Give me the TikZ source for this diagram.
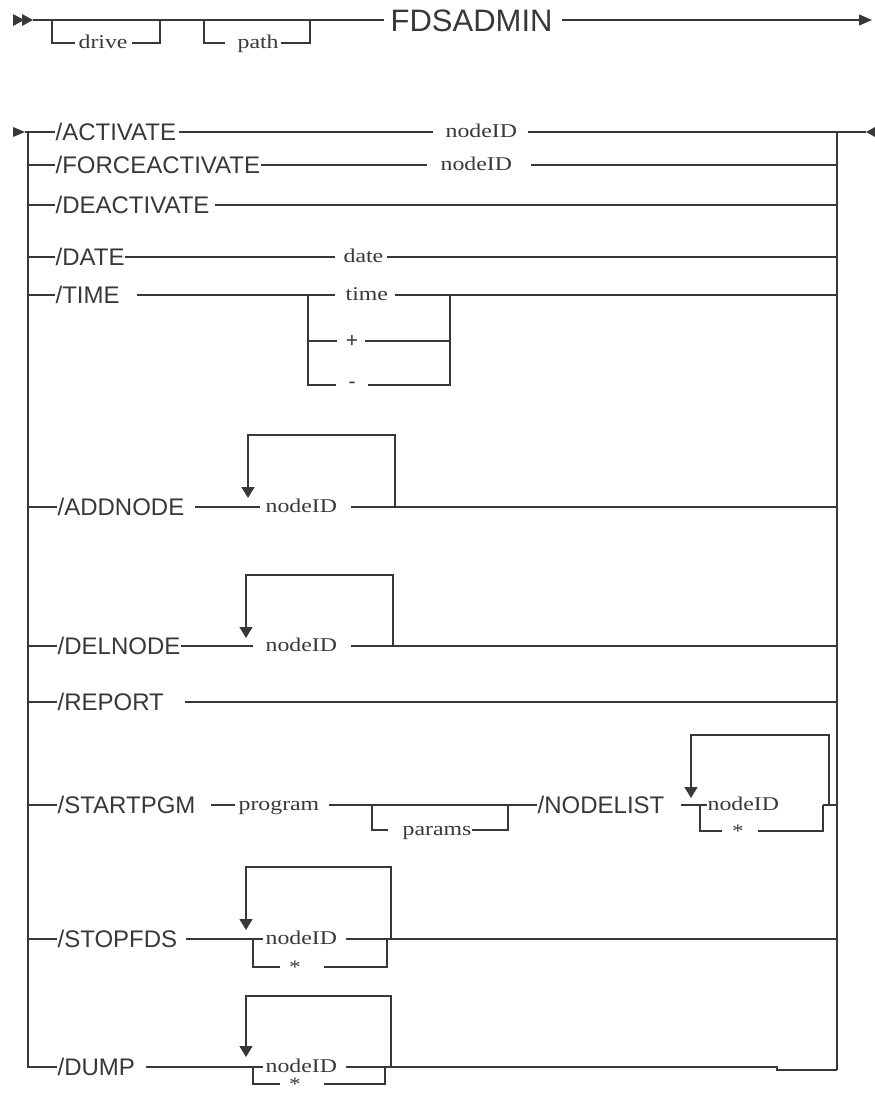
\documentclass[tikz,border=0pt]{standalone}
\usepackage{fontspec}
\newfontfamily\sns{Liberation Sans}
\newfontfamily\ser{Liberation Serif}[FakeStretch=1.22]
\usetikzlibrary{arrows.meta}
\definecolor{ink}{HTML}{383838}
\begin{document}
\begin{tikzpicture}[x=1pt,y=-1pt,line width=1.3pt,color=ink,
  lab/.style={font=\sns\fontsize{24}{24}\selectfont,anchor=west,inner sep=0pt,text height=17pt,text depth=0pt},
  arg/.style={font=\ser\fontsize{19.5}{19.5}\selectfont,anchor=west,inner sep=0pt,text height=11pt,text depth=0pt},
  sym/.style={font=\sns\fontsize{21}{21}\selectfont,inner sep=0pt},
  star/.style={font=\ser\fontsize{19}{19}\selectfont,inner sep=0pt},
  lp/.style={-{Triangle[width=13pt,length=11pt]}}]
\useasboundingbox (0,0) rectangle (875,1095);
% ---------------- top line
\fill (13,14) -- (24,20) -- (13,26) -- cycle;
\fill (22,14) -- (33,20) -- (22,26) -- cycle;
\coordinate (s0) at (33,20);
\coordinate (d1) at (52,20);
\coordinate (d2) at (160,20);
\coordinate (p1) at (204,20);
\coordinate (p2) at (310,20);
\coordinate (e0) at (872,20);
\node[arg] (drv) at (78,43) {drive};
\node[arg] (pth) at (237,43) {path};
\node[lab,font=\sns\fontsize{31}{31}\selectfont,text height=22pt] (fds) at (390,20) {FDSADMIN};
\draw (s0) -- ([xshift=-6pt]fds.west);
\draw (d1) -- (d1 |- drv) -- ([xshift=-3pt]drv.west);
\draw ([xshift=4pt]drv.east) -- (d2 |- drv) -- (d2);
\draw (p1) -- (p1 |- pth) -- ([xshift=-12pt]pth.west);
\draw ([xshift=2pt]pth.east) -- (p2 |- pth) -- (p2);
\draw[-{Triangle[width=11pt,length=13pt]}] ([xshift=9pt]fds.east) -- (e0);
% ---------------- main diagram
\fill (13,127) -- (25,132) -- (13,137) -- cycle;
\coordinate (in) at (25,132);
\coordinate (L) at (28,132);
\coordinate (R) at (837,132);
\coordinate (Rb) at (837,1070);
\coordinate (eR) at (866,132);
\node[lab] (act) at (55,132) {/ACTIVATE};
\node[arg] (actn) at (445,132) {nodeID};
\node[lab] (fact) at (55,165) {/FORCEACTIVATE};
\node[arg] (factn) at (440,165) {nodeID};
\node[lab] (deact) at (55,205) {/DEACTIVATE};
\node[lab] (date) at (55,257) {/DATE};
\node[arg] (daten) at (343,257) {date};
\node[lab] (time) at (55,295) {/TIME};
\node[arg] (timen) at (345,295) {time};
\node[sym] (plus) at (352,341) {+};
\node[sym] (minus) at (352,385) {-};
\node[lab] (addn) at (57,507) {/ADDNODE};
\node[arg] (addid) at (265,507) {nodeID};
\node[lab] (deln) at (57,646) {/DELNODE};
\node[arg] (delid) at (265,646) {nodeID};
\node[lab] (rep) at (57,702) {/REPORT};
\node[lab] (stp) at (57,805) {/STARTPGM};
\node[arg] (prog) at (238,805) {program};
\node[arg] (parm) at (402,830) {params};
\node[lab] (nl) at (537,805) {/NODELIST};
\node[arg] (nlid) at (707,805) {nodeID};
\node[star] (nlst) at (738,831) {*};
\node[lab] (stop) at (57,939) {/STOPFDS};
\node[arg] (stopid) at (265,939) {nodeID};
\node[star] (stopst) at (295,967) {*};
\node[lab] (dump) at (57,1067) {/DUMP};
\node[arg] (dumpid) at (265,1067) {nodeID};
\node[star] (dumpst) at (295,1084) {*};
% verticals
\draw (in) -- (act.west);
\draw (L) -- (L |- dump) -- (dump.west);
\draw (R) -- (Rb);
% row 1
\draw ([xshift=2pt]act.east) -- ([xshift=-12pt]actn.west);
\draw ([xshift=10pt]actn.east) -- (R) -- (eR);
\fill (eR) -- (875,127) -- (875,137) -- cycle;
% row 2
\draw (L |- fact) -- (fact.west);
\draw (fact.east) -- ([xshift=-13pt]factn.west);
\draw ([xshift=18pt]factn.east) -- (R |- fact);
% row 3
\draw (L |- deact) -- (deact.west);
\draw ([xshift=5pt]deact.east) -- (R |- deact);
% row 4
\draw (L |- date) -- (date.west);
\draw (date.east) -- ([xshift=-8pt]daten.west);
\draw ([xshift=3pt]daten.east) -- (R |- date);
% row 5
\coordinate (t1) at (308,295);
\coordinate (t2) at (450,295);
\draw (L |- time) -- (time.west);
\draw ([xshift=17pt]time.east) -- ([xshift=-10pt]timen.west);
\draw ([xshift=6pt]timen.east) -- (R |- time);
\draw (t1 |- plus) -- ([xshift=-8pt]plus.west);
\draw ([xshift=6pt]plus.east) -- (t2 |- plus);
\draw (t1) -- (t1 |- minus) -- ([xshift=-12pt]minus.west);
\draw ([xshift=12pt]minus.east) -- (t2 |- minus) -- (t2);
% row 6
\coordinate (a1) at (248,435);
\coordinate (a2) at (395,435);
\coordinate (a3) at (248,498);
\draw (L |- addn) -- (addn.west);
\draw ([xshift=10pt]addn.east) -- ([xshift=-5pt]addid.west);
\draw ([xshift=13pt]addid.east) -- (R |- addn);
\draw[lp] (a2 |- addn) -- (a2) -- (a1) -- (a3);
% row 7
\coordinate (b1) at (246,575);
\coordinate (b2) at (393,575);
\coordinate (b3) at (246,638);
\draw (L |- deln) -- (deln.west);
\draw (deln.east) -- ([xshift=-12pt]delid.west);
\draw ([xshift=13pt]delid.east) -- (R |- deln);
\draw[lp] (b2 |- deln) -- (b2) -- (b1) -- (b3);
% row 8
\draw (L |- rep) -- (rep.west);
\draw ([xshift=20pt]rep.east) -- (R |- rep);
% row 9
\coordinate (q1) at (372,805);
\coordinate (q2) at (508,805);
\coordinate (c1) at (700,805);
\coordinate (c2) at (823,805);
\coordinate (k1) at (691,735);
\coordinate (k2) at (829,735);
\coordinate (k3) at (691,798);
\draw (L |- stp) -- (stp.west);
\draw ([xshift=15pt]stp.east) -- ([xshift=-3pt]prog.west);
\draw ([xshift=9pt]prog.east) -- (nl.west);
\draw (q1) -- (q1 |- parm) -- ([xshift=-14pt]parm.west);
\draw (parm.east) -- (q2 |- parm) -- (q2);
\draw ([xshift=16pt]nl.east) -- (nlid.west);
\draw (c1) -- (c1 |- nlst) -- ([xshift=-10pt]nlst.west);
\draw ([xshift=14pt]nlst.east) -- (c2 |- nlst) -- (c2);
\draw (c2 -| k2) ++(-6pt,0) -- (R |- nl);
\draw[lp] (k2 |- nl) -- (k2) -- (k1) -- (k3);
% row 10
\coordinate (s1) at (253,939);
\coordinate (s2) at (387,939);
\coordinate (g1) at (246,867);
\coordinate (g2) at (391,867);
\coordinate (g3) at (246,930);
\draw (L |- stop) -- (stop.west);
\draw ([xshift=8pt]stop.east) -- ([xshift=-2pt]stopid.west);
\draw ([xshift=8pt]stopid.east) -- (R |- stop);
\draw (s1) -- (s1 |- stopst) -- ([xshift=-9pt]stopst.west);
\draw ([xshift=23pt]stopst.east) -- (s2 |- stopst) -- (s2);
\draw[lp] (g2 |- stop) -- (g2) -- (g1) -- (g3);
% row 11
\coordinate (u1) at (253,1067);
\coordinate (u2) at (385,1067);
\coordinate (h1) at (246,996);
\coordinate (h2) at (391,996);
\coordinate (h3) at (246,1057);
\coordinate (st1) at (777,1067);
\coordinate (st2) at (777,1070);
\draw ([xshift=10pt]dump.east) -- ([xshift=-2pt]dumpid.west);
\draw ([xshift=8pt]dumpid.east) -- (st1) -- (st2) -- (Rb);
\draw (u1) -- (u1 |- dumpst) -- ([xshift=-9pt]dumpst.west);
\draw ([xshift=23pt]dumpst.east) -- (u2 |- dumpst) -- (u2);
\draw[lp] (h2 |- dump) -- (h2) -- (h1) -- (h3);
\end{tikzpicture}
\end{document}
